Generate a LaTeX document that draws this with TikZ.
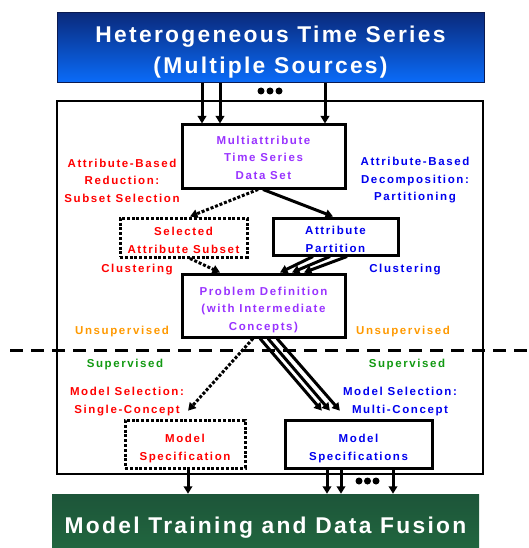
\documentclass[tikz,border=0pt]{standalone}
\usepackage{fontspec}
\setmainfont{Liberation Sans}
\newfontfamily\labelfont{Liberation Sans}[LetterSpace=14]
\newfontfamily\bannerfont{Liberation Sans}[LetterSpace=10]
\usetikzlibrary{arrows.meta}

\definecolor{cpurple}{HTML}{9933FF}
\definecolor{cred}{HTML}{FF0000}
\definecolor{cblue}{HTML}{0000EE}
\definecolor{corange}{HTML}{FF9900}
\definecolor{cgreen}{HTML}{119911}
\definecolor{navytop}{HTML}{0A2A7C}
\definecolor{bluebot}{HTML}{0A6CFA}
\definecolor{navyedge}{HTML}{0A1A50}
\definecolor{greentop}{HTML}{1D5539}
\definecolor{greenmid}{HTML}{3A9466}
\definecolor{greenbot}{HTML}{21663F}

\begin{document}
\begin{tikzpicture}[x=1pt,y=-1pt,
  lbl/.style={font=\labelfont\bfseries\fontsize{11.5}{17.5}\selectfont,
    align=center, inner sep=0pt},
  banner/.style={font=\bannerfont\bfseries\fontsize{22.8}{31}\selectfont,
    align=center, text=white, inner sep=0pt, text depth=0pt},
  stagebox/.style={lbl, draw, line width=3pt, fill=white, text depth=0pt},
  dotbox/.style={stagebox, dash pattern=on 3pt off 1.8pt},
  arr/.style={line width=3pt, -{Triangle[length=7.5pt,width=8.5pt]}},
  dotarr/.style={arr, dash pattern=on 3pt off 1.8pt},
  frameline/.style={draw, line width=2.5pt},
  divider/.style={line width=3pt, dash pattern=on 13pt off 8pt},
  dot/.style={circle, fill, inner sep=0pt, minimum size=7pt}
]
\useasboundingbox (0,0) rectangle (529,548);

% banners
\node[banner, draw=navyedge, line width=1pt, top color=navytop, bottom color=bluebot,
      minimum width=427pt, minimum height=70pt, text height=52pt] (hts) at (270.5,48)
  {Heterogeneous Time Series\\(Multiple Sources)};
\node[banner, top color=greentop, middle color=greenmid, bottom color=greenbot,
      minimum width=427pt, minimum height=54pt, text height=25.4pt] (mtf) at (265.5,521)
  {Model Training and Data Fusion};

% outer frame and supervised / unsupervised divider
\node[frameline, minimum width=426pt, minimum height=373pt] (frame) at (270,287.5) {};
\coordinate (divL) at (10,350);
\coordinate (divR) at (529,350);
\draw[divider] (divL) -- (divR);

% stages
\node[stagebox, text=cpurple, minimum width=163pt, minimum height=63pt, text height=45pt] (mts) at (263.5,156.5)
  {Multiattribute\\Time Series\\Data Set};
\node[dotbox, text=cred, minimum width=127pt, minimum height=39pt, text height=31pt] (sas) at (183.5,237.5)
  {Selected\\Attribute Subset};
\node[stagebox, text=cblue, minimum width=125pt, minimum height=37pt, text height=31pt] (ap) at (335.5,236.5)
  {Attribute\\Partition};
\node[stagebox, text=cpurple, minimum width=163pt, minimum height=63pt, text height=49pt] (pd) at (263.5,305.5)
  {Problem Definition\\(with Intermediate\\Concepts)};
\node[dotbox, text=cred, minimum width=120pt, minimum height=48pt, text height=32pt] (ms1) at (185,444)
  {Model\\Specification};
\node[stagebox, text=cblue, minimum width=147pt, minimum height=48pt, text height=32pt] (ms2) at (358.5,444)
  {Model\\Specifications};

% side labels
\node[lbl, text=cred] (redA) at (122,180.5) {Attribute-Based\\Reduction:\\Subset Selection};
\node[lbl, text=cblue] (blueA) at (415,180.5) {Attribute-Based\\Decomposition:\\Partitioning};
\node[lbl, text=cred] (redC) at (137,270) {Clustering};
\node[lbl, text=cblue] (blueC) at (405,270) {Clustering};
\node[lbl, text=corange] (unsL) at (122,332) {Unsupervised};
\node[lbl, text=corange] (unsR) at (403,332) {Unsupervised};
\node[lbl, text=cgreen] (supL) at (125,365) {Supervised};
\node[lbl, text=cgreen] (supR) at (407,365) {Supervised};
\node[lbl, text=cred] (selL) at (127,401.5) {Model Selection:\\Single-Concept};
\node[lbl, text=cblue] (selR) at (400,401.5) {Model Selection:\\Multi-Concept};

% ellipsis dots
\node[dot] (dt1) at (261,91) {};
\node[dot] (dt2) at (270,91) {};
\node[dot] (dt3) at (279,91) {};
\node[dot] (db1) at (359,481) {};
\node[dot] (db2) at (367.5,481) {};
\node[dot] (db3) at (376,481) {};

% sources into the data set
\draw[arr] ([xshift=-68.5pt]hts.south) -- ([xshift=-61.5pt]mts.north);
\draw[arr] ([xshift=-50.5pt]hts.south) -- ([xshift=-43.5pt]mts.north);
\draw[arr] ([xshift=54.5pt]hts.south) -- ([xshift=61.5pt]mts.north);

% reduction / decomposition
\draw[dotarr] ([xshift=-5.5pt]mts.south) -- ([xshift=6.5pt]sas.north);
\draw[arr] ([xshift=-0.5pt]mts.south) -- ([xshift=-2.5pt]ap.north);

% clustering into the problem definition
\draw[dotarr] ([xshift=6.5pt]sas.south) -- ([xshift=-43.5pt]pd.north);
\draw[arr] ([xshift=-22.5pt]ap.south) -- ([xshift=16.5pt]pd.north);
\draw[arr] ([xshift=-5.5pt]ap.south) -- ([xshift=28.5pt]pd.north);
\draw[arr] ([xshift=11.5pt]ap.south) -- ([xshift=40.5pt]pd.north);

% model selection
\draw[dotarr, shorten >=10.6pt] ([xshift=-10.5pt]pd.south) -- ([xshift=-4pt]ms1.north);
\draw[arr, shorten >=10.4pt] ([xshift=-3.5pt]pd.south) -- ([xshift=-29.9pt]ms2.north);
\draw[arr, shorten >=10.4pt] ([xshift=4.5pt]pd.south) -- ([xshift=-21.9pt]ms2.north);
\draw[arr, shorten >=10.4pt] ([xshift=13.5pt]pd.south) -- ([xshift=-11.8pt]ms2.north);

% into training and fusion
\draw[arr] ([xshift=3pt]ms1.south) -- ([xshift=-77.5pt]mtf.north);
\draw[arr] ([xshift=-31.5pt]ms2.south) -- ([xshift=61.5pt]mtf.north);
\draw[arr] ([xshift=-17.5pt]ms2.south) -- ([xshift=75.5pt]mtf.north);
\draw[arr] ([xshift=34.5pt]ms2.south) -- ([xshift=127.5pt]mtf.north);
\end{tikzpicture}
\end{document}
